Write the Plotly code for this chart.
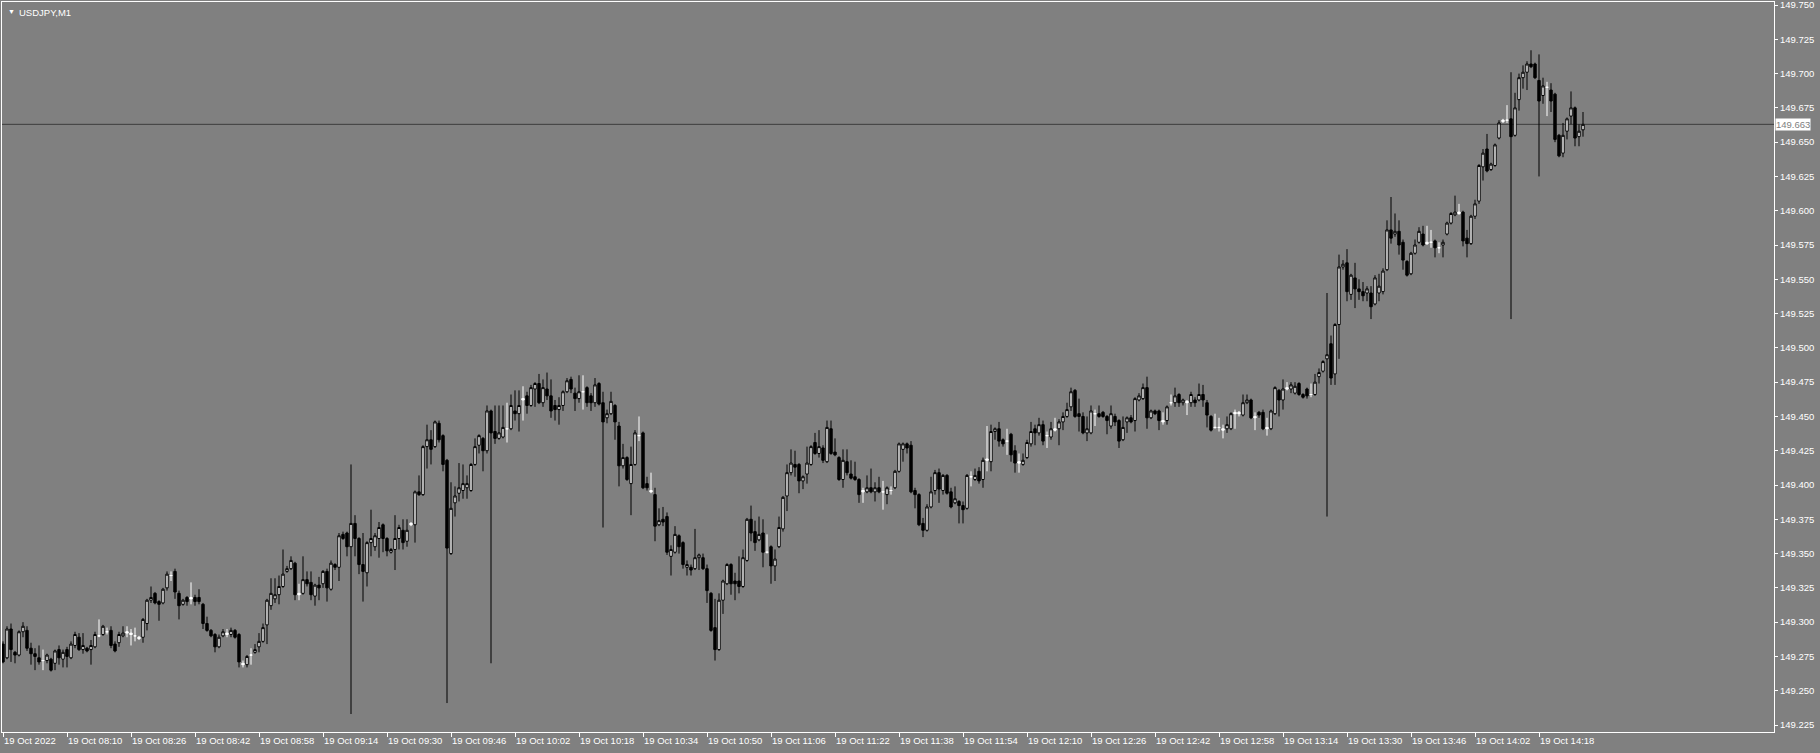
import numpy as np
import plotly.graph_objects as go

chart_title = "USDJPY,M1"
time_labels = ["19 Oct 2022", "19 Oct 08:10", "19 Oct 08:26", "19 Oct 08:42", "19 Oct 08:58",
               "19 Oct 09:14", "19 Oct 09:30", "19 Oct 09:46", "19 Oct 10:02", "19 Oct 10:18",
               "19 Oct 10:34", "19 Oct 10:50", "19 Oct 11:06", "19 Oct 11:22", "19 Oct 11:38",
               "19 Oct 11:54", "19 Oct 12:10", "19 Oct 12:26", "19 Oct 12:42", "19 Oct 12:58",
               "19 Oct 13:14", "19 Oct 13:30", "19 Oct 13:46", "19 Oct 14:02", "19 Oct 14:18"]
label_every = 16  # one time label every 16 one-minute bars
price_ticks = [149.225, 149.250, 149.275, 149.300, 149.325, 149.350, 149.375, 149.400,
               149.425, 149.450, 149.475, 149.500, 149.525, 149.550, 149.575, 149.600,
               149.625, 149.650, 149.675, 149.700, 149.725, 149.750]
last_price = 149.663

opens = [
    149.284, 149.274, 149.295, 149.278, 149.276, 149.293, 149.294, 149.281, 149.277, 149.274,
    149.272, 149.272, 149.273, 149.270, 149.280, 149.273, 149.280, 149.274, 149.283, 149.289,
    149.280, 149.281, 149.280, 149.282, 149.290, 149.291, 149.293, 149.294, 149.284, 149.285,
    149.290, 149.292, 149.292, 149.290, 149.289, 149.289, 149.299, 149.316, 149.321, 149.315,
    149.314, 149.325, 149.334, 149.337, 149.321, 149.313, 149.318, 149.318, 149.318, 149.318,
    149.313, 149.299, 149.294, 149.291, 149.282, 149.290, 149.292, 149.291, 149.294, 149.291,
    149.270, 149.269, 149.276, 149.278, 149.282, 149.286, 149.298, 149.312, 149.317, 149.320,
    149.326, 149.337, 149.339, 149.343, 149.321, 149.321, 149.331, 149.329, 149.319, 149.327,
    149.328, 149.337, 149.324, 149.342, 149.340, 149.364, 149.365, 149.355, 149.372, 149.361,
    149.342, 149.336, 149.358, 149.355, 149.361, 149.371, 149.361, 149.351, 149.353, 149.361,
    149.367, 149.359, 149.371, 149.371, 149.395, 149.393, 149.428, 149.433, 149.428, 149.445,
    149.436, 149.418, 149.350, 149.387, 149.394, 149.396, 149.398, 149.396, 149.415, 149.429,
    149.434, 149.425, 149.454, 149.439, 149.434, 149.435, 149.441, 149.441, 149.454, 149.452,
    149.462, 149.465, 149.458, 149.470, 149.474, 149.460, 149.470, 149.465, 149.458, 149.455,
    149.458, 149.468, 149.477, 149.467, 149.463, 149.468, 149.471, 149.465, 149.460, 149.474,
    149.460, 149.449, 149.452, 149.458, 149.443, 149.414, 149.420, 149.401, 149.415, 149.436,
    149.438, 149.401, 149.396, 149.393, 149.371, 149.375, 149.377, 149.348, 149.351, 149.363,
    149.358, 149.340, 149.340, 149.339, 149.347, 149.347, 149.339, 149.321, 149.296, 149.280,
    149.316, 149.328, 149.342, 149.330, 149.330, 149.326, 149.345, 149.375, 149.366, 149.360,
    149.365, 149.351, 149.355, 149.341, 149.355, 149.368, 149.392, 149.409, 149.415, 149.415,
    149.403, 149.408, 149.415, 149.431, 149.423, 149.427, 149.417, 149.441, 149.424, 149.420,
    149.404, 149.417, 149.408, 149.406, 149.404, 149.395, 149.395, 149.398, 149.395, 149.398,
    149.395, 149.393, 149.396, 149.398, 149.410, 149.426, 149.430, 149.429, 149.396, 149.393,
    149.372, 149.367, 149.384, 149.396, 149.409, 149.396, 149.407, 149.395, 149.387, 149.388,
    149.385, 149.383, 149.406, 149.404, 149.410, 149.404, 149.419, 149.417, 149.439, 149.441,
    149.433, 149.432, 149.437, 149.425, 149.417, 149.415, 149.420, 149.430, 149.441, 149.438,
    149.444, 149.436, 149.435, 149.441, 149.441, 149.446, 149.450, 149.457, 149.469, 149.452,
    149.450, 149.438, 149.438, 149.452, 149.452, 149.453, 149.450, 149.443, 149.450, 149.447,
    149.433, 149.446, 149.449, 149.447, 149.462, 149.463, 149.471, 149.449, 149.454, 149.454,
    149.447, 149.447, 149.460, 149.460, 149.466, 149.460, 149.461, 149.460, 149.462, 149.462,
    149.466, 149.460, 149.450, 149.442, 149.442, 149.441, 149.441, 149.441, 149.453, 149.453,
    149.451, 149.460, 149.462, 149.450, 149.453, 149.453, 149.442, 149.441, 149.452, 149.469,
    149.462, 149.471, 149.470, 149.467, 149.474, 149.466, 149.470, 149.466, 149.466, 149.479,
    149.483, 149.492, 149.503, 149.481, 149.517, 149.559, 149.562, 149.539, 149.551, 149.543,
    149.541, 149.540, 149.540, 149.532, 149.540, 149.541, 149.557, 149.586, 149.583, 149.585,
    149.577, 149.563, 149.554, 149.569, 149.577, 149.583, 149.577, 149.577, 149.578, 149.573,
    149.575, 149.583, 149.591, 149.597, 149.599, 149.599, 149.580, 149.576, 149.596, 149.607,
    149.632, 149.645, 149.630, 149.633, 149.653, 149.665, 149.666, 149.667, 149.655, 149.681,
    149.697, 149.701, 149.707, 149.707, 149.695, 149.684, 149.690, 149.688, 149.685, 149.655,
    149.642, 149.658, 149.669, 149.675, 149.654, 149.659]

highs = [
    149.286, 149.297, 149.299, 149.279, 149.294, 149.300, 149.297, 149.285, 149.281, 149.283,
    149.280, 149.277, 149.274, 149.280, 149.283, 149.280, 149.282, 149.286, 149.293, 149.292,
    149.292, 149.282, 149.287, 149.293, 149.302, 149.298, 149.296, 149.297, 149.286, 149.293,
    149.297, 149.297, 149.295, 149.296, 149.290, 149.303, 149.317, 149.326, 149.322, 149.316,
    149.325, 149.337, 149.337, 149.339, 149.323, 149.317, 149.319, 149.329, 149.320, 149.324,
    149.314, 149.304, 149.295, 149.292, 149.291, 149.295, 149.295, 149.296, 149.295, 149.292,
    149.272, 149.276, 149.281, 149.284, 149.292, 149.299, 149.317, 149.332, 149.332, 149.334,
    149.353, 149.341, 149.348, 149.344, 149.328, 149.348, 149.337, 149.337, 149.328, 149.333,
    149.338, 149.339, 149.345, 149.343, 149.365, 149.366, 149.366, 149.415, 149.378, 149.362,
    149.365, 149.359, 149.382, 149.365, 149.373, 149.372, 149.362, 149.354, 149.378, 149.371,
    149.375, 149.375, 149.373, 149.396, 149.407, 149.429, 149.444, 149.440, 149.447, 149.447,
    149.437, 149.419, 149.402, 149.399, 149.416, 149.415, 149.407, 149.416, 149.434, 149.437,
    149.435, 149.458, 149.455, 149.458, 149.458, 149.458, 149.460, 149.466, 149.469, 149.469,
    149.472, 149.468, 149.473, 149.475, 149.481, 149.477, 149.482, 149.477, 149.462, 149.464,
    149.469, 149.478, 149.479, 149.471, 149.480, 149.480, 149.472, 149.467, 149.478, 149.475,
    149.468, 149.455, 149.468, 149.459, 149.446, 149.430, 149.421, 149.428, 149.440, 149.450,
    149.439, 149.406, 149.409, 149.398, 149.383, 149.384, 149.380, 149.356, 149.370, 149.364,
    149.359, 149.345, 149.342, 149.368, 149.350, 149.350, 149.342, 149.322, 149.317, 149.321,
    149.331, 149.343, 149.343, 149.336, 149.348, 149.353, 149.376, 149.385, 149.374, 149.377,
    149.375, 149.364, 149.356, 149.353, 149.377, 149.392, 149.415, 149.426, 149.425, 149.416,
    149.407, 149.428, 149.429, 149.438, 149.440, 149.429, 149.447, 149.447, 149.434, 149.421,
    149.426, 149.426, 149.418, 149.417, 149.405, 149.398, 149.407, 149.412, 149.402, 149.406,
    149.403, 149.399, 149.399, 149.411, 149.431, 149.431, 149.431, 149.432, 149.398, 149.394,
    149.376, 149.386, 149.406, 149.411, 149.412, 149.408, 149.408, 149.398, 149.399, 149.389,
    149.388, 149.408, 149.410, 149.412, 149.413, 149.420, 149.443, 149.444, 149.442, 149.446,
    149.434, 149.441, 149.438, 149.429, 149.423, 149.423, 149.433, 149.446, 149.444, 149.449,
    149.447, 149.439, 149.446, 149.449, 149.448, 149.453, 149.460, 149.471, 149.470, 149.463,
    149.453, 149.450, 149.458, 149.455, 149.458, 149.454, 149.451, 149.458, 149.452, 149.448,
    149.450, 149.450, 149.451, 149.464, 149.467, 149.474, 149.479, 149.455, 149.455, 149.455,
    149.453, 149.458, 149.466, 149.471, 149.467, 149.463, 149.462, 149.468, 149.464, 149.474,
    149.473, 149.462, 149.451, 149.452, 149.449, 149.444, 149.450, 149.453, 149.455, 149.454,
    149.466, 149.466, 149.463, 149.453, 149.454, 149.455, 149.449, 149.455, 149.472, 149.470,
    149.477, 149.475, 149.475, 149.475, 149.475, 149.467, 149.471, 149.474, 149.481, 149.485,
    149.491, 149.540, 149.509, 149.518, 149.568, 149.564, 149.572, 149.554, 149.562, 149.550,
    149.548, 149.545, 149.545, 149.553, 149.554, 149.558, 149.593, 149.610, 149.598, 149.593,
    149.579, 149.564, 149.570, 149.579, 149.588, 149.589, 149.589, 149.586, 149.579, 149.577,
    149.579, 149.592, 149.599, 149.611, 149.605, 149.600, 149.586, 149.597, 149.608, 149.634,
    149.645, 149.656, 149.635, 149.649, 149.666, 149.667, 149.677, 149.701, 149.686, 149.700,
    149.706, 149.709, 149.717, 149.708, 149.714, 149.697, 149.694, 149.693, 149.686, 149.656,
    149.664, 149.668, 149.687, 149.676, 149.663, 149.672]

lows = [
    149.270, 149.273, 149.271, 149.270, 149.275, 149.289, 149.279, 149.269, 149.265, 149.269,
    149.265, 149.270, 149.264, 149.265, 149.269, 149.267, 149.267, 149.273, 149.281, 149.279,
    149.277, 149.278, 149.269, 149.281, 149.289, 149.290, 149.291, 149.281, 149.278, 149.282,
    149.289, 149.289, 149.283, 149.286, 149.287, 149.285, 149.294, 149.314, 149.313, 149.301,
    149.313, 149.323, 149.330, 149.317, 149.302, 149.312, 149.312, 149.313, 149.312, 149.313,
    149.295, 149.293, 149.289, 149.278, 149.281, 149.289, 149.289, 149.289, 149.288, 149.267,
    149.267, 149.267, 149.269, 149.277, 149.278, 149.285, 149.284, 149.309, 149.314, 149.313,
    149.325, 149.336, 149.338, 149.316, 149.316, 149.320, 149.326, 149.316, 149.312, 149.316,
    149.325, 149.315, 149.323, 149.338, 149.330, 149.360, 149.348, 149.233, 149.348, 149.335,
    149.315, 149.326, 149.348, 149.352, 149.347, 149.351, 149.348, 149.350, 149.338, 149.353,
    149.353, 149.355, 149.370, 149.358, 149.392, 149.392, 149.412, 149.415, 149.427, 149.431,
    149.410, 149.241, 149.349, 149.377, 149.388, 149.390, 149.390, 149.395, 149.414, 149.423,
    149.410, 149.423, 149.270, 149.430, 149.433, 149.434, 149.431, 149.440, 149.447, 149.439,
    149.447, 149.452, 149.457, 149.457, 149.459, 149.457, 149.462, 149.449, 149.447, 149.444,
    149.454, 149.467, 149.467, 149.454, 149.460, 149.455, 149.457, 149.454, 149.457, 149.458,
    149.369, 149.445, 149.451, 149.433, 149.399, 149.412, 149.403, 149.378, 149.414, 149.432,
    149.397, 149.396, 149.394, 149.359, 149.370, 149.370, 149.349, 149.334, 149.350, 149.350,
    149.339, 149.334, 149.334, 149.338, 149.338, 149.338, 149.314, 149.293, 149.272, 149.279,
    149.306, 149.327, 149.320, 149.316, 149.321, 149.325, 149.344, 149.359, 149.352, 149.359,
    149.340, 149.350, 149.328, 149.330, 149.354, 149.366, 149.381, 149.407, 149.406, 149.394,
    149.397, 149.401, 149.414, 149.422, 149.420, 149.416, 149.416, 149.422, 149.421, 149.403,
    149.398, 149.407, 149.404, 149.403, 149.387, 149.387, 149.394, 149.394, 149.388, 149.394,
    149.382, 149.386, 149.393, 149.397, 149.409, 149.417, 149.423, 149.394, 149.383, 149.370,
    149.362, 149.366, 149.383, 149.393, 149.387, 149.393, 149.393, 149.383, 149.386, 149.372,
    149.372, 149.382, 149.399, 149.403, 149.401, 149.398, 149.410, 149.410, 149.433, 149.428,
    149.428, 149.422, 149.417, 149.409, 149.409, 149.414, 149.419, 149.428, 149.429, 149.436,
    149.429, 149.427, 149.433, 149.439, 149.429, 149.440, 149.449, 149.454, 149.449, 149.439,
    149.437, 149.432, 149.437, 149.443, 149.449, 149.449, 149.437, 149.441, 149.443, 149.427,
    149.432, 149.438, 149.445, 149.439, 149.461, 149.462, 149.441, 149.448, 149.451, 149.440,
    149.444, 149.444, 149.458, 149.457, 149.457, 149.458, 149.451, 149.457, 149.457, 149.461,
    149.457, 149.442, 149.439, 149.441, 149.439, 149.434, 149.438, 149.440, 149.441, 149.450,
    149.450, 149.459, 149.448, 149.440, 149.449, 149.440, 149.436, 149.440, 149.451, 149.450,
    149.455, 149.469, 149.467, 149.466, 149.465, 149.463, 149.463, 149.464, 149.465, 149.474,
    149.482, 149.377, 149.473, 149.473, 149.492, 149.557, 149.534, 149.535, 149.529, 149.535,
    149.534, 149.534, 149.521, 149.531, 149.534, 149.539, 149.556, 149.576, 149.581, 149.568,
    149.557, 149.552, 149.553, 149.568, 149.576, 149.574, 149.575, 149.573, 149.566, 149.569,
    149.566, 149.582, 149.590, 149.596, 149.597, 149.574, 149.566, 149.575, 149.594, 149.605,
    149.622, 149.628, 149.629, 149.632, 149.652, 149.664, 149.664, 149.521, 149.654, 149.673,
    149.689, 149.688, 149.704, 149.696, 149.625, 149.678, 149.669, 149.672, 149.650, 149.639,
    149.639, 149.652, 149.663, 149.647, 149.647, 149.654]

closes = [
    149.271, 149.295, 149.280, 149.276, 149.293, 149.297, 149.281, 149.277, 149.275, 149.271,
    149.272, 149.276, 149.265, 149.279, 149.274, 149.278, 149.275, 149.284, 149.291, 149.280,
    149.283, 149.279, 149.283, 149.291, 149.290, 149.297, 149.293, 149.283, 149.279, 149.291,
    149.292, 149.293, 149.291, 149.290, 149.288, 149.302, 149.316, 149.318, 149.314, 149.313,
    149.324, 149.335, 149.334, 149.322, 149.312, 149.316, 149.315, 149.317, 149.315, 149.315,
    149.299, 149.294, 149.290, 149.282, 149.289, 149.293, 149.291, 149.294, 149.289, 149.271,
    149.269, 149.275, 149.276, 149.280, 149.286, 149.296, 149.316, 149.321, 149.320, 149.326,
    149.335, 149.339, 149.345, 149.320, 149.320, 149.331, 149.328, 149.320, 149.327, 149.325,
    149.337, 149.325, 149.343, 149.340, 149.363, 149.361, 149.355, 149.372, 149.361, 149.342,
    149.337, 149.358, 149.361, 149.363, 149.369, 149.361, 149.352, 149.353, 149.361, 149.369,
    149.358, 149.367, 149.372, 149.395, 149.393, 149.428, 149.433, 149.426, 149.446, 149.433,
    149.415, 149.354, 149.383, 149.392, 149.398, 149.401, 149.401, 149.415, 149.428, 149.436,
    149.425, 149.454, 149.438, 149.434, 149.438, 149.442, 149.441, 149.458, 149.452, 149.458,
    149.463, 149.458, 149.471, 149.474, 149.460, 149.471, 149.465, 149.454, 149.455, 149.458,
    149.468, 149.476, 149.470, 149.463, 149.468, 149.468, 149.460, 149.460, 149.473, 149.459,
    149.446, 149.452, 149.461, 149.446, 149.414, 149.420, 149.404, 149.415, 149.438, 149.436,
    149.398, 149.398, 149.395, 149.370, 149.374, 149.373, 149.351, 149.353, 149.364, 149.355,
    149.342, 149.342, 149.338, 149.347, 149.349, 149.339, 149.323, 149.294, 149.280, 149.316,
    149.330, 149.342, 149.328, 149.328, 149.326, 149.347, 149.375, 149.365, 149.358, 149.364,
    149.351, 149.351, 149.341, 149.346, 149.369, 149.391, 149.409, 149.416, 149.413, 149.403,
    149.406, 149.416, 149.428, 149.423, 149.428, 149.418, 149.442, 149.423, 149.422, 149.404,
    149.418, 149.409, 149.405, 149.404, 149.393, 149.396, 149.398, 149.395, 149.398, 149.395,
    149.395, 149.398, 149.396, 149.410, 149.430, 149.430, 149.427, 149.395, 149.393, 149.371,
    149.367, 149.384, 149.395, 149.409, 149.397, 149.407, 149.394, 149.384, 149.390, 149.385,
    149.382, 149.407, 149.406, 149.407, 149.403, 149.418, 149.418, 149.439, 149.441, 149.432,
    149.430, 149.432, 149.422, 149.416, 149.416, 149.418, 149.431, 149.439, 149.438, 149.444,
    149.432, 149.436, 149.441, 149.440, 149.446, 149.450, 149.455, 149.468, 149.450, 149.450,
    149.438, 149.441, 149.454, 149.452, 149.450, 149.450, 149.447, 149.452, 149.446, 149.432,
    149.442, 149.449, 149.446, 149.463, 149.465, 149.471, 149.449, 149.454, 149.452, 149.447,
    149.446, 149.457, 149.460, 149.465, 149.460, 149.462, 149.460, 149.466, 149.460, 149.466,
    149.462, 149.451, 149.440, 149.442, 149.442, 149.440, 149.444, 149.452, 149.452, 149.452,
    149.460, 149.462, 149.449, 149.449, 149.451, 149.441, 149.441, 149.454, 149.471, 149.462,
    149.470, 149.470, 149.473, 149.472, 149.466, 149.464, 149.465, 149.466, 149.475, 149.482,
    149.490, 149.495, 149.478, 149.517, 149.559, 149.561, 149.541, 149.553, 149.543, 149.541,
    149.538, 149.543, 149.530, 149.551, 149.545, 149.556, 149.586, 149.580, 149.585, 149.575,
    149.564, 149.553, 149.569, 149.575, 149.585, 149.575, 149.576, 149.577, 149.573, 149.573,
    149.577, 149.591, 149.598, 149.599, 149.598, 149.578, 149.576, 149.596, 149.605, 149.633,
    149.642, 149.629, 149.634, 149.648, 149.664, 149.666, 149.666, 149.654, 149.675, 149.697,
    149.701, 149.707, 149.705, 149.697, 149.680, 149.691, 149.690, 149.680, 149.652, 149.640,
    149.655, 149.667, 149.675, 149.653, 149.658, 149.663]

# ---------------------------------------------------------------------------
bg = "#808080"
fg = "#ffffff"
font_family = "Liberation Sans, Arial, sans-serif"
fsize = 9.5

o = np.array(opens)
h = np.array(highs)
l = np.array(lows)
c = np.array(closes)
idx = np.arange(len(o))
doji = np.isclose(o, c)
body = ~doji

fig = go.Figure()
fig.add_trace(go.Candlestick(
    x=idx[body], open=o[body], high=h[body], low=l[body], close=c[body],
    increasing=dict(fillcolor="#ffffff", line=dict(color="#000000", width=1)),
    decreasing=dict(fillcolor="#000000", line=dict(color="#000000", width=1)),
    whiskerwidth=0, hoverinfo="skip", showlegend=False))
fig.add_trace(go.Candlestick(
    x=idx[doji], open=o[doji], high=h[doji], low=l[doji], close=c[doji],
    increasing=dict(fillcolor="#ffffff", line=dict(color="#ffffff", width=1)),
    decreasing=dict(fillcolor="#ffffff", line=dict(color="#ffffff", width=1)),
    whiskerwidth=0, hoverinfo="skip", showlegend=False))

tick_idx = idx[::label_every][:len(time_labels)]

W, H = 1820, 753
m_l, m_r, m_t, m_b = 2, 46, 2, 21
bar_px = 4.0
first_bar_px = 3.0  # first bar centre, px from the figure's left edge
x0 = -(first_bar_px - m_l) / bar_px
x1 = x0 + (W - m_l - m_r) / bar_px

fig.update_layout(
    width=W, height=H,
    margin=dict(l=m_l, r=m_r, t=m_t, b=m_b, pad=0, autoexpand=False),
    paper_bgcolor=bg, plot_bgcolor=bg,
    boxgap=0.4, boxgroupgap=0.0, boxmode="overlay",
    showlegend=False,
    font=dict(family=font_family, size=fsize, color=fg),
    xaxis=dict(
        range=[x0, x1], rangeslider=dict(visible=False), automargin=False,
        tickmode="array", tickvals=tick_idx, ticktext=time_labels, tickangle=0,
        ticks="outside", ticklen=4, tickcolor=fg, tickwidth=1,
        ticklabelposition="outside right", ticklabeloverflow="allow",
        tickfont=dict(family=font_family, size=fsize, color=fg),
        showline=True, linecolor=fg, linewidth=1, mirror=True,
        showgrid=False, zeroline=False, fixedrange=True),
    yaxis=dict(
        side="right", range=[149.2199, 149.7522], automargin=False,
        tickmode="array", tickvals=price_ticks, tickformat=".3f",
        ticks="outside", ticklen=3, tickcolor=fg, tickwidth=1,
        ticklabeloverflow="allow",
        tickfont=dict(family=font_family, size=fsize, color=fg),
        showline=True, linecolor=fg, linewidth=1, mirror=True,
        showgrid=False, zeroline=False, fixedrange=True),
    shapes=[dict(type="line", xref="paper", x0=0, x1=1, yref="y",
                 y0=last_price, y1=last_price,
                 line=dict(color="#3c3c3c", width=1), layer="below")],
    annotations=[
        dict(text="▼", xref="paper", yref="paper", x=0, y=1, xanchor="left", yanchor="top",
             xshift=4, yshift=-4, showarrow=False, font=dict(size=7, color=fg)),
        dict(text=chart_title, xref="paper", yref="paper", x=0, y=1, xanchor="left",
             yanchor="top", xshift=15, yshift=-3, showarrow=False,
             font=dict(family=font_family, size=fsize, color=fg)),
        dict(text=f"{last_price:.3f}", xref="paper", yref="y", x=1, y=last_price,
             xanchor="left", yanchor="middle", xshift=1, showarrow=False,
             bgcolor="#ffffff", borderpad=0,
             font=dict(family=font_family, size=fsize, color="#808080")),
    ],
)

fig.write_html("out.html", config={"displayModeBar": False},
               post_script="document.body.style.margin='0px';document.body.style.overflow='hidden';")
